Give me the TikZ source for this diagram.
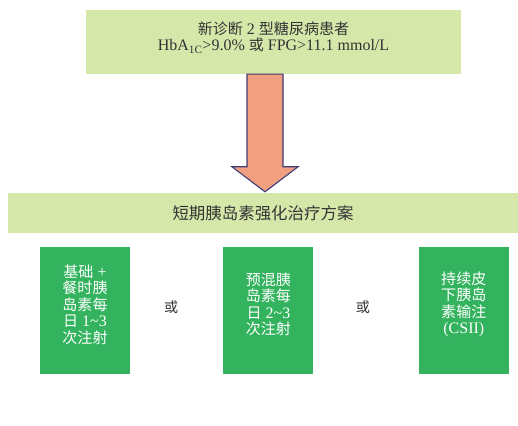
\documentclass[tikz,border=0pt]{standalone}
\usepackage{fontspec}
\setmainfont{Liberation Serif}
\newfontfamily\cjk[Scale=0.94]{Noto Sans CJK SC}
\usetikzlibrary{positioning}
\usetikzlibrary{calc}
\definecolor{palegreen}{HTML}{D6E7AA}
\definecolor{boxgreen}{HTML}{33B35E}
\definecolor{arrowfill}{HTML}{F0A080}
\definecolor{arrowedge}{HTML}{3E3C78}
\definecolor{textgray}{HTML}{333333}
\tikzset{headbox/.style={fill=palegreen, inner sep=0pt, text=textgray, align=center}}
\tikzset{optbox/.style={fill=boxgreen, minimum width=90pt, minimum height=127pt, inner sep=0pt}}
\tikzset{opttext/.style={text=white, align=center, font=\fontsize{16}{16.5}\selectfont}}
\tikzset{orword/.style={text=textgray, font=\cjk\fontsize{15}{15}\selectfont}}
\tikzset{bigarrow/.style={fill=arrowfill, draw=arrowedge, line width=1.1pt, line join=miter}}
\newcommand{\zh}[1]{{\cjk #1}}

\begin{document}
\begin{tikzpicture}[x=1pt,y=1pt]
        \useasboundingbox (0,0) rectangle (518,425);

        \node[headbox, minimum width=375pt, minimum height=64pt] (diag) at (273.5,383) {};
        \node[text=textgray, align=center, font=\fontsize{16}{16}\selectfont] (diagtxt) at ($(diag.center)+(0,4)$) {\zh{新诊断} 2 \zh{型糖尿病患者}\\HbA\textsubscript{1C}>9.0\% \zh{或} FPG>11.1 mmol/L};

        \node[headbox, minimum width=510pt, minimum height=40pt, font=\cjk\fontsize{17.5}{17.5}\selectfont] (plan) at (263,212) {短期胰岛素强化治疗方案};

        \coordinate (tip) at ($(plan.north)+(2,1)$);
        \coordinate (tail) at (tip |- diag.south);
        \draw[bigarrow] ($(tail)+(-18,0)$) -- ($(tip)+(-18,25)$) -- ($(tip)+(-33,25)$) -- (tip) -- ($(tip)+(33,25)$) -- ($(tip)+(18,25)$) -- ($(tail)+(18,0)$) -- cycle;

        \node[optbox] (basal) at (85,114.5) {};
        \node[optbox, right=93pt of basal] (premix) {};
        \node[optbox, right=105pt of premix] (csii) {};

        \node[opttext] (basaltxt) at ($(basal.center)+(0,6)$) {\zh{基础} +\\\zh{餐时胰}\\\zh{岛素每}\\\zh{日} 1\textasciitilde3\\\zh{次注射}};
        \node[opttext] (premixtxt) at ($(premix.center)+(0,6)$) {\zh{预混胰}\\\zh{岛素每}\\\zh{日} 2\textasciitilde3\\\zh{次注射}};
        \node[opttext] (csiitxt) at ($(csii.center)+(0,6)$) {\zh{持续皮}\\\zh{下胰岛}\\\zh{素输注}\\(CSII)};

        \node[orword] (or1) at ($(basal.east)!0.44!(premix.west)+(0,3.5)$) {或};
        \node[orword] (or2) at ($(premix.east)!0.47!(csii.west)+(0,3.5)$) {或};

    \end{tikzpicture}
\end{document}
